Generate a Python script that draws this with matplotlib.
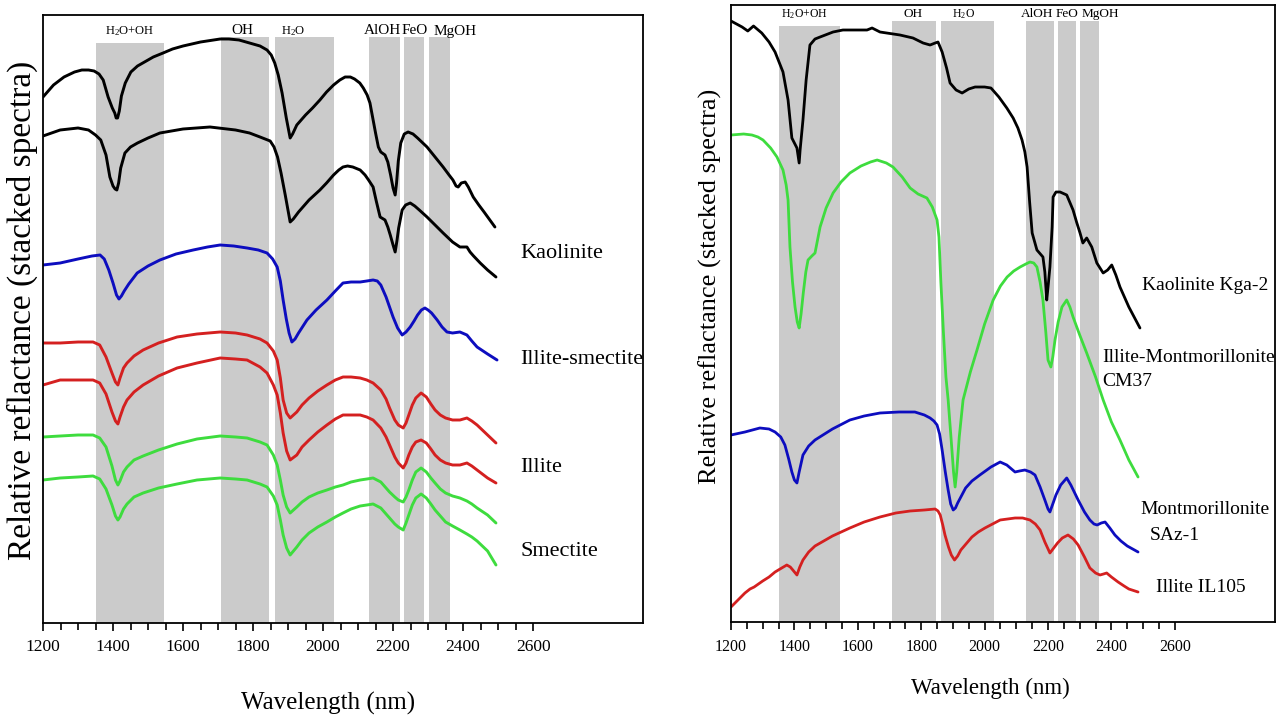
import matplotlib
matplotlib.use("Agg")
import matplotlib.pyplot as plt

plt.rcParams['font.family'] = ['Liberation Serif', 'DejaVu Serif']
plt.rcParams['mathtext.fontset'] = 'custom'
plt.rcParams['mathtext.rm'] = 'Liberation Serif'
plt.rcParams['mathtext.it'] = 'Liberation Serif:italic'

# ---------------- data ----------------
band_lo = [1350, 1708, 1862, 2130, 2231, 2302]
band_hi = [1545, 1847, 2031, 2220, 2289, 2362]
band_names = [r'H$_2$O+OH', 'OH', r'H$_2$O', 'AlOH', 'FeO', 'MgOH']
left_band_top = [580, 586, 586, 586, 586, 586]
right_band_top = [596, 601, 601, 601, 601, 601]
left_band_label_wl = [1449, 1769, 1914, 2171, 2263, 2377]
right_band_label_wl = [1433, 1774, 1932, 2165, 2260, 2364]

tick_major = [1200, 1400, 1600, 1800, 2000, 2200, 2400, 2600]

# Left panel spectra: (wavelength nm, stacked relative reflectance, arbitrary units)
kaolinite_1 = [(1200, 526), (1230, 538), (1260, 546), (1290, 551), (1311, 553), (1330, 553), (1346, 552),
               (1360, 549), (1372, 543), (1386, 526), (1398, 515), (1405, 510), (1409, 505), (1413, 505),
               (1418, 512), (1424, 527), (1435, 540), (1451, 551), (1470, 557), (1490, 561), (1515, 566),
               (1543, 570), (1570, 574), (1600, 577), (1650, 581), (1706, 584), (1731, 584), (1760, 583),
               (1790, 580), (1820, 577), (1840, 573), (1852, 568), (1862, 560), (1872, 548), (1883, 530),
               (1895, 505), (1906, 485), (1913, 489), (1925, 498), (1950, 508), (1970, 515), (1991, 523),
               (2010, 531), (2030, 538), (2048, 543), (2063, 546), (2078, 546), (2090, 544), (2105, 540),
               (2115, 535), (2126, 528), (2134, 520), (2142, 505), (2150, 490), (2158, 476), (2165, 471),
               (2177, 468), (2185, 461), (2193, 448), (2200, 435), (2206, 428), (2210, 440), (2215, 462),
               (2222, 480), (2232, 489), (2243, 491), (2257, 489), (2270, 485), (2285, 480), (2297, 476),
               (2320, 466), (2343, 456), (2360, 448), (2371, 443), (2380, 437), (2386, 436), (2395, 440),
               (2406, 441), (2415, 436), (2429, 426), (2445, 418), (2460, 411), (2491, 396)]

kaolinite_2 = [(1200, 487), (1249, 493), (1300, 495), (1330, 493), (1350, 488), (1365, 483), (1380, 468),
               (1391, 446), (1400, 437), (1406, 434), (1411, 433), (1416, 440), (1422, 455), (1434, 470),
               (1450, 476), (1470, 480), (1500, 485), (1534, 490), (1600, 494), (1677, 496), (1750, 493),
               (1790, 490), (1820, 486), (1849, 482), (1860, 476), (1870, 466), (1880, 450), (1892, 428),
               (1906, 401), (1915, 404), (1930, 411), (1960, 423), (1991, 433), (2010, 440), (2030, 448),
               (2045, 453), (2057, 456), (2070, 457), (2085, 456), (2106, 453), (2120, 448), (2130, 443),
               (2143, 436), (2152, 422), (2163, 406), (2177, 403), (2185, 396), (2192, 388), (2200, 378),
               (2206, 371), (2211, 382), (2216, 395), (2226, 413), (2236, 418), (2249, 420), (2262, 417),
               (2275, 413), (2297, 406), (2320, 398), (2343, 390), (2370, 381), (2391, 376), (2411, 376),
               (2420, 371), (2430, 367), (2449, 360), (2470, 353), (2494, 346)]

illite_smectite = [(1200, 358), (1249, 360), (1300, 364), (1340, 367), (1363, 368), (1375, 364), (1388, 353),
                   (1400, 340), (1410, 328), (1417, 324), (1424, 327), (1432, 332), (1445, 339), (1469, 350),
                   (1500, 357), (1534, 363), (1580, 369), (1629, 373), (1670, 376), (1706, 378), (1745, 377),
                   (1783, 375), (1815, 373), (1840, 370), (1856, 364), (1869, 356), (1878, 342), (1886, 323),
                   (1895, 304), (1903, 290), (1911, 281), (1920, 284), (1930, 290), (1954, 303), (1980, 313),
                   (2011, 323), (2035, 332), (2057, 340), (2080, 341), (2106, 341), (2125, 342), (2143, 343),
                   (2155, 342), (2165, 338), (2180, 326), (2190, 316), (2200, 306), (2213, 295), (2226, 288),
                   (2237, 291), (2249, 296), (2260, 302), (2270, 308), (2281, 313), (2291, 315), (2300, 313),
                   (2310, 310), (2326, 303), (2340, 296), (2354, 291), (2370, 290), (2391, 291), (2411, 288),
                   (2425, 282), (2440, 276), (2470, 269), (2497, 263)]

left_wl = [1200, 1249, 1300, 1343, 1362, 1380, 1397, 1407, 1414, 1420, 1430, 1440, 1460, 1486, 1530,
           1583, 1640, 1706, 1750, 1783, 1820, 1840, 1858, 1869, 1878, 1886, 1896, 1906, 1925, 1940,
           1960, 1985, 2011, 2035, 2057, 2080, 2106, 2125, 2143, 2165, 2180, 2190, 2205, 2215, 2229,
           2237, 2245, 2255, 2265, 2280, 2295, 2308, 2320, 2335, 2350, 2370, 2391, 2411, 2425, 2440,
           2470, 2494]
illite_1 = [280, 280, 281, 281, 278, 266, 250, 241, 238, 245, 255, 260, 267, 273, 280,
            286, 289, 291, 290, 288, 284, 280, 272, 263, 245, 223, 210, 205, 211, 218,
            225, 232, 238, 243, 246, 246, 245, 243, 240, 233, 224, 215, 203, 198, 195,
            200, 208, 218, 225, 230, 226, 219, 213, 208, 205, 203, 203, 205, 202, 198,
            188, 180]
illite_2 = [238, 243, 243, 243, 240, 229, 211, 202, 199, 206, 216, 223, 231, 238, 247,
            255, 260, 265, 264, 263, 256, 250, 238, 228, 210, 190, 172, 163, 168, 176,
            183, 191, 198, 204, 208, 208, 208, 206, 203, 195, 186, 178, 166, 160, 155,
            160, 168, 176, 181, 183, 180, 174, 168, 163, 160, 158, 158, 160, 157, 153,
            145, 140]
smectite_1 = [186, 187, 188, 188, 185, 176, 157, 143, 138, 142, 151, 156, 163, 167, 173,
              179, 184, 187, 186, 185, 181, 178, 168, 158, 143, 128, 116, 110, 116, 121,
              126, 130, 133, 136, 138, 141, 143, 144, 145, 141, 135, 131, 126, 123, 121,
              126, 133, 143, 151, 155, 151, 145, 140, 134, 130, 127, 125, 122, 119, 115,
              108, 100]
smectite_2 = [143, 145, 146, 147, 144, 134, 118, 107, 103, 106, 114, 119, 126, 130, 135,
              139, 143, 145, 144, 143, 139, 136, 127, 118, 103, 88, 75, 68, 76, 83,
              90, 96, 101, 106, 110, 114, 117, 118, 119, 115, 109, 105, 99, 96, 93,
              100, 108, 118, 125, 129, 125, 119, 113, 107, 101, 97, 93, 89, 86, 82,
              72, 58]

# Right panel spectra
kaolinite_kga2 = [(1200, 601), (1235, 595), (1253, 591), (1271, 596), (1297, 589), (1320, 580), (1339, 570),
                  (1364, 550), (1380, 522), (1392, 484), (1408, 474), (1415, 459), (1418, 472), (1427, 502),
                  (1437, 542), (1449, 577), (1465, 583), (1481, 585), (1522, 590), (1553, 592), (1629, 592),
                  (1645, 594), (1670, 590), (1733, 587), (1774, 584), (1806, 579), (1828, 577), (1844, 579),
                  (1853, 580), (1866, 570), (1880, 554), (1891, 539), (1910, 532), (1929, 529), (1950, 533),
                  (1970, 535), (2000, 535), (2020, 534), (2045, 525), (2070, 514), (2090, 504), (2105, 494),
                  (2118, 482), (2127, 470), (2134, 455), (2142, 420), (2150, 389), (2165, 372), (2184, 365),
                  (2190, 350), (2196, 322), (2201, 338), (2206, 355), (2213, 395), (2216, 425), (2225, 430),
                  (2238, 430), (2259, 427), (2279, 412), (2290, 400), (2301, 389), (2310, 379), (2322, 384),
                  (2338, 375), (2354, 359), (2374, 349), (2388, 352), (2401, 357), (2414, 347), (2427, 335),
                  (2455, 315), (2490, 294)]

illite_mont_cm37 = [(1200, 487), (1240, 488), (1266, 487), (1285, 485), (1301, 482), (1325, 474), (1345, 465),
                    (1364, 452), (1374, 437), (1380, 422), (1386, 375), (1394, 340), (1402, 315), (1409, 300),
                    (1415, 294), (1421, 308), (1428, 329), (1436, 350), (1443, 362), (1455, 366), (1465, 369),
                    (1473, 382), (1481, 395), (1500, 414), (1522, 429), (1547, 440), (1575, 449), (1610, 456),
                    (1640, 460), (1661, 462), (1690, 459), (1711, 455), (1740, 445), (1765, 434), (1790, 428),
                    (1818, 424), (1835, 415), (1850, 402), (1856, 385), (1862, 340), (1870, 290), (1878, 245),
                    (1885, 222), (1895, 180), (1902, 150), (1907, 135), (1912, 150), (1920, 185), (1932, 222),
                    (1955, 250), (1976, 272), (2000, 298), (2027, 322), (2050, 336), (2071, 345), (2092, 351),
                    (2112, 355), (2130, 358), (2143, 360), (2155, 359), (2165, 355), (2175, 340), (2184, 322),
                    (2193, 290), (2200, 262), (2209, 255), (2215, 265), (2222, 282), (2232, 300), (2244, 315),
                    (2259, 322), (2269, 315), (2279, 305), (2300, 287), (2322, 269), (2350, 245), (2374, 222),
                    (2400, 200), (2427, 182), (2455, 162), (2484, 145)]

montmorillonite_saz1 = [(1200, 187), (1244, 190), (1291, 194), (1320, 193), (1339, 190), (1357, 185), (1370, 177),
                        (1382, 163), (1392, 150), (1400, 142), (1408, 139), (1415, 150), (1427, 167), (1445, 176),
                        (1465, 182), (1520, 193), (1575, 202), (1620, 206), (1670, 209), (1730, 210), (1780, 210),
                        (1810, 207), (1828, 204), (1840, 201), (1850, 197), (1858, 188), (1866, 172), (1876, 150),
                        (1885, 132), (1893, 118), (1901, 112), (1908, 114), (1915, 119), (1940, 134), (1960, 141),
                        (1985, 147), (2020, 155), (2049, 160), (2070, 157), (2096, 150), (2110, 151), (2127, 152),
                        (2145, 150), (2159, 147), (2175, 135), (2190, 122), (2200, 113), (2206, 110), (2215, 118),
                        (2225, 127), (2240, 137), (2259, 144), (2272, 137), (2295, 122), (2315, 110), (2332, 102),
                        (2345, 98), (2355, 97), (2368, 99), (2380, 100), (2395, 94), (2411, 87), (2430, 81),
                        (2450, 76), (2484, 70)]

illite_il105 = [(1200, 15), (1222, 22), (1244, 29), (1260, 33), (1273, 35), (1300, 41), (1320, 45), (1339, 50),
                (1360, 54), (1376, 57), (1387, 55), (1395, 52), (1408, 47), (1417, 55), (1427, 62), (1445, 70),
                (1465, 76), (1520, 86), (1575, 94), (1620, 100), (1670, 105), (1720, 109), (1765, 111),
                (1810, 112), (1844, 113), (1853, 111), (1860, 107), (1868, 97), (1875, 87), (1886, 75),
                (1895, 67), (1905, 62), (1915, 66), (1925, 72), (1960, 85), (1980, 90), (2001, 94), (2049, 102),
                (2096, 104), (2120, 104), (2143, 102), (2160, 98), (2175, 92), (2190, 80), (2206, 69),
                (2218, 74), (2230, 79), (2245, 84), (2263, 87), (2280, 83), (2295, 77), (2315, 65), (2332, 54),
                (2350, 49), (2364, 47), (2375, 48), (2385, 49), (2400, 45), (2421, 40), (2440, 36), (2455, 33),
                (2484, 30)]

left_labels = ['Kaolinite', 'Illite-smectite', 'Illite', 'Smectite']
left_label_val = [370, 263, 156, 71]
right_labels = ['Kaolinite Kga-2', 'Illite-Montmorillonite', 'CM37', 'Montmorillonite', 'SAz-1', 'Illite IL105']
right_label_wl = [2497, 2370, 2370, 2490, 2522, 2541]
right_label_val = [337, 265, 240, 112, 87, 34]

BLACK, BLUE, RED, GREEN = '#000000', '#0d0dbf', '#d42020', '#3edc3e'
BAND = '#cbcbcb'

# ---------------- figure ----------------
W, H = 1277, 717
fig = plt.figure(figsize=(W / 100, H / 100), dpi=100)

axL = fig.add_axes([43 / W, 1 - 623 / H, 600 / W, 608 / H])
axR = fig.add_axes([731 / W, 1 - 622 / H, 544 / W, 617 / H])


def style_axis(ax, xmax, ymax, tick_fs, pad):
    ax.set_xlim(1200, xmax)
    ax.set_ylim(0, ymax)
    ax.set_yticks([])
    ax.set_xticks(tick_major)
    ax.set_xticklabels([str(t) for t in tick_major], fontsize=tick_fs)
    minor = [m for m in range(1250, 2600, 50) if m not in tick_major]
    ax.set_xticks(minor, minor=True)
    ax.tick_params(axis='x', which='major', direction='out', length=5.5, width=1.2, pad=pad)
    ax.tick_params(axis='x', which='minor', direction='out', length=5, width=1.2)
    for s in ax.spines.values():
        s.set_linewidth(1.3)


def draw_bands(ax, tops, label_wl, label_val, fs_sub, fs):
    widths = [h - l for l, h in zip(band_lo, band_hi)]
    ax.bar(band_lo, tops, width=widths, align='edge', color=BAND, zorder=0, linewidth=0)
    for name, x in zip(band_names, label_wl):
        size = fs_sub if '$' in name else fs
        ax.text(x, label_val, name, ha='center', va='center', fontsize=size)


def plot_pairs(ax, pairs, color, lw):
    xs, ys = zip(*pairs)
    ax.plot(xs, ys, color=color, lw=lw, solid_joinstyle='round', solid_capstyle='round')


# Left panel
style_axis(axL, 2914, 608, 12.5, 6)
draw_bands(axL, left_band_top, left_band_label_wl, 592, 9, 11)
lw = 2.1
plot_pairs(axL, kaolinite_1, BLACK, lw)
plot_pairs(axL, kaolinite_2, BLACK, lw)
plot_pairs(axL, illite_smectite, BLUE, lw)
for vals, col in [(illite_1, RED), (illite_2, RED), (smectite_1, GREEN), (smectite_2, GREEN)]:
    axL.plot(left_wl, vals, color=col, lw=lw, solid_joinstyle='round', solid_capstyle='round')
for lab, v in zip(left_labels, left_label_val):
    axL.text(2563, v, lab, ha='left', va='center', fontsize=16)

# Right panel
style_axis(axR, 2916, 617, 11.5, 7)
draw_bands(axR, right_band_top, right_band_label_wl, 608, 8.5, 9.5)
plot_pairs(axR, kaolinite_kga2, BLACK, 2.0)
plot_pairs(axR, illite_mont_cm37, GREEN, 2.0)
plot_pairs(axR, montmorillonite_saz1, BLUE, 2.0)
plot_pairs(axR, illite_il105, RED, 2.0)
for lab, x, v in zip(right_labels, right_label_wl, right_label_val):
    axR.text(x, v, lab, ha='left', va='center', fontsize=14)

# Axis titles
fig.text(22 / W, 1 - 310 / H, 'Relative reflactance (stacked spectra)', rotation=90,
         ha='center', va='center', fontsize=24)
fig.text(710 / W, 1 - 286 / H, 'Relative reflactance (stacked spectra)', rotation=90,
         ha='center', va='center', fontsize=19)
fig.text(328 / W, 1 - 703 / H, 'Wavelength (nm)', ha='center', va='center', fontsize=18)
fig.text(990 / W, 1 - 688 / H, 'Wavelength (nm)', ha='center', va='center', fontsize=16.5)

fig.savefig('out.png', dpi=100)
